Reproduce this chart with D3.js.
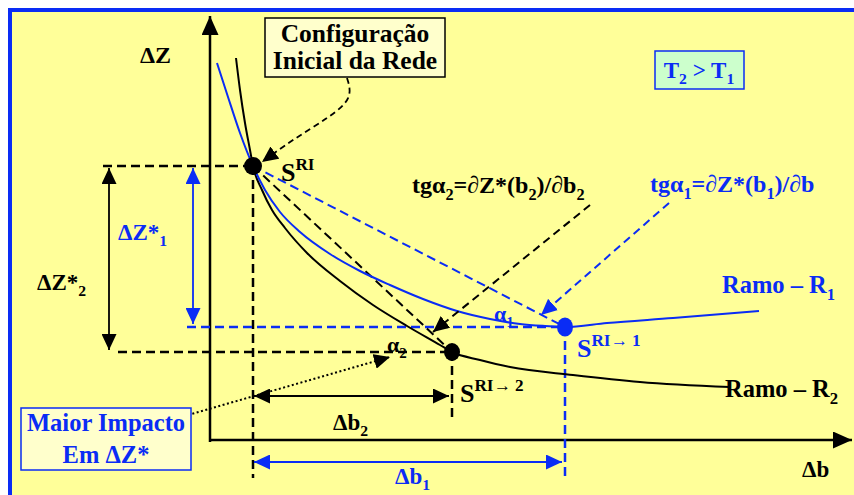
<!DOCTYPE html>
<html><head><meta charset="utf-8">
<script src="https://cdn.jsdelivr.net/npm/d3@7"></script>
<style>html,body{margin:0;padding:0;background:#fff;}svg{display:block;}</style>
</head><body>
<script>
// ---- data (in chart units: Δb horizontally, ΔZ vertically) ----
const ramoR1 = [[0.35,18.85],[0.9,17.15],[1.5,15.35],[2.15,13.7],[2.75,12.5],[3.5,11.4],[4.5,10.4],[6.0,9.3],[7.5,8.45],[9.0,7.75],[10.65,7.05],[12.35,6.45],[14.0,6.05],[15.5,5.8],[16.75,5.7],[17.75,5.65],[19.85,5.85],[23.15,6.1],[27.45,6.45]];
const ramoR2 = [[1.3,19.1],[1.5,17.5],[1.75,15.85],[2.0,14.5],[2.15,13.7],[2.6,12.5],[3.1,11.5],[3.75,10.6],[4.85,9.35],[6.5,7.95],[8.15,6.75],[9.85,5.7],[11.5,4.75],[12.1,4.4],[13.5,4.0],[15.0,3.65],[18.15,3.25],[21.5,2.9],[26.0,2.65]];
const pointNames = ["SRI","S1","S2"];
const pointX = [2.15, 17.75, 12.1];
const pointY = [13.7, 5.65, 4.4];
const seriesNames = ["Ramo – R1","Ramo – R2"];

const W = 854, H = 495;
const BLUE = "#0a2cf5", BLACK = "#000";
const x = d3.scaleLinear().domain([0,32]).range([210,850]);
const y = d3.scaleLinear().domain([0,21.2]).range([440,16]);
const P = {}; pointNames.forEach((n,i)=>P[n]={x:pointX[i],y:pointY[i]});

const svg = d3.select("body").append("svg").attr("width",W).attr("height",H);
const defs = svg.append("defs");
function marker(id,color,len,wid){
  defs.append("marker").attr("id",id).attr("markerUnits","userSpaceOnUse")
    .attr("viewBox",`0 0 ${len} ${wid}`).attr("refX",len).attr("refY",wid/2)
    .attr("markerWidth",len).attr("markerHeight",wid).attr("orient","auto-start-reverse")
    .append("path").attr("d",`M0,0L${len},${wid/2}L0,${wid}Z`).attr("fill",color);
}
marker("ab",BLACK,16,15); marker("abl",BLUE,16,15); marker("axis",BLACK,19,17);

// background & frame
svg.append("rect").attr("x",8).attr("y",8).attr("width",W-8).attr("height",H-8).attr("fill",BLUE);
svg.append("rect").attr("x",12).attr("y",12).attr("width",W-12).attr("height",H-12).attr("fill","#ffff99");

const g = svg.append("g");
function seg(x1,y1,x2,y2,color,w,dash,mEnd,mStart){
  const l=g.append("line").attr("x1",x1).attr("y1",y1).attr("x2",x2).attr("y2",y2)
   .attr("stroke",color).attr("stroke-width",w);
  if(dash) l.attr("stroke-dasharray",dash);
  if(mEnd) l.attr("marker-end",`url(#${mEnd})`);
  if(mStart) l.attr("marker-start",`url(#${mStart})`);
  return l;
}
const DASH="9,5";
// axes
seg(x(0),y(-0.1),x(0),y(21.2),BLACK,2.5,null,"axis");
seg(x(0),y(0),x(32.1),y(0),BLACK,2.5,null,"axis");

// dashed guide lines
seg(103,y(P.SRI.y),x(P.SRI.x),y(P.SRI.y),BLACK,2.5,DASH);
seg(x(P.SRI.x),y(P.SRI.y),x(P.SRI.x),478,BLACK,2.5,DASH);
seg(187,y(P.S1.y),x(P.S1.x),y(P.S1.y),BLUE,2.5,DASH);
seg(118,y(P.S2.y),x(P.S2.x),y(P.S2.y),BLACK,2.5,DASH);
seg(x(P.S2.x),y(P.S2.y),x(P.S2.x),422,BLACK,2.5,DASH);
seg(x(P.S1.x),y(P.S1.y),x(P.S1.x),476,BLUE,2.5,DASH);
// chords
seg(x(P.SRI.x),y(P.SRI.y),x(P.S1.x),y(P.S1.y),BLUE,2,DASH);
seg(x(P.SRI.x),y(P.SRI.y),x(P.S2.x),y(P.S2.y),BLACK,2,DASH);

// curves
const line = d3.line().x(d=>x(d[0])).y(d=>y(d[1])).curve(d3.curveMonotoneX);
g.append("path").attr("d",line(ramoR2)).attr("fill","none").attr("stroke",BLACK).attr("stroke-width",2);
g.append("path").attr("d",line(ramoR1)).attr("fill","none").attr("stroke",BLUE).attr("stroke-width",2);

// double arrows
seg(109,y(P.SRI.y)+2,109,y(P.S2.y)-2,BLACK,1.8,null,"ab","ab");
seg(193,y(P.SRI.y)+2,193,y(P.S1.y)-3,BLUE,1.8,null,"abl","abl");
seg(x(P.SRI.x)+1,396,x(P.S2.x)-3,396,BLACK,1.8,null,"ab","ab");
seg(x(P.SRI.x)+1,462,x(P.S1.x)-3,462,BLUE,1.8,null,"abl","abl");

// connectors
const cl = d3.line().curve(d3.curveBasis);
g.append("path").attr("d",cl([[347,78],[353,98],[330,117],[292,140],[262,162]]))
  .attr("fill","none").attr("stroke",BLACK).attr("stroke-width",1.8).attr("stroke-dasharray","6,4").attr("marker-end","url(#ab)");
seg(590,205,433,332,BLACK,2,"8,5","ab");
seg(669,203,541,315,BLUE,2,"8,5","abl");
seg(188,415,390,357,BLACK,2,"2,2.5","ab");

// points
const pcol = {SRI:BLACK,S1:BLUE,S2:BLACK};
const prx = {SRI:9,S1:8,S2:8}, pry = {SRI:9,S1:9.5,S2:9};
g.selectAll("ellipse.pt").data(pointNames).join("ellipse").attr("class","pt")
  .attr("cx",n=>x(P[n].x)).attr("cy",n=>y(P[n].y)).attr("rx",n=>prx[n]).attr("ry",n=>pry[n]).attr("fill",n=>pcol[n]);

// text helper
function rich(xp,yp,parts,size,color,anchor){
  const t=g.append("text").attr("x",xp).attr("y",yp).attr("font-family","'Liberation Serif','Times New Roman',serif")
    .attr("font-weight","bold").attr("font-size",size).attr("fill",color).attr("text-anchor",anchor||"start");
  let shift=0;
  parts.forEach(p=>{
    const s = typeof p==="string"?{t:p}:p;
    let target=0, fs=size;
    if(s.sub){target=size*0.28; fs=size*0.68;}
    if(s.sup){target=-size*0.42; fs=size*0.66;}
    t.append("tspan").attr("dy",target-shift).attr("font-size",fs).text(s.t);
    shift=target;
  });
  return t;
}
// boxes
g.append("rect").attr("x",265).attr("y",18).attr("width",180).attr("height",59).attr("fill","#ffffcc").attr("stroke",BLACK).attr("stroke-width",1.5);
rich(355,42,["Configuração"],25.5,BLACK,"middle");
rich(355,69,["Inicial da Rede"],25.5,BLACK,"middle");
g.append("rect").attr("x",655).attr("y",51).attr("width",89).attr("height",38).attr("fill","#ccffcc").attr("stroke",BLUE).attr("stroke-width",1.5);
rich(699,78,["T",{t:"2",sub:true}," > T",{t:"1",sub:true}],23,BLUE,"middle");
g.append("rect").attr("x",21).attr("y",408).attr("width",170).attr("height",62).attr("fill","#ffffcc").attr("stroke",BLUE).attr("stroke-width",1.5);
rich(106,431,["Maior Impacto"],24.5,BLUE,"middle");
rich(106,463,["Em ΔZ*"],24.5,BLUE,"middle");

// labels
rich(140,63,["ΔZ"],24,BLACK);
rich(281,181,["S",{t:"RI",sup:true}],26,BLACK);
rich(412,193,["tgα",{t:"2",sub:true},"=∂Z*(b",{t:"2",sub:true},")/∂b",{t:"2",sub:true}],24,BLACK);
rich(650,192,["tgα",{t:"1",sub:true},"=∂Z*(b",{t:"1",sub:true},")/∂b"],24,BLUE);
rich(722,293,[seriesNames[0].slice(0,-1),{t:"1",sub:true}],24.5,BLUE);
rich(725,397,[seriesNames[1].slice(0,-1),{t:"2",sub:true}],24.5,BLACK);
rich(494,321,["α",{t:"1",sub:true}],22,BLUE);
rich(387,352,["α",{t:"2",sub:true}],22,BLACK);
rich(577,357,["S",{t:"RI→ 1",sup:true}],26,BLUE);
rich(460,402,["S",{t:"RI→ 2",sup:true}],26,BLACK);
rich(118,240,["ΔZ*",{t:"1",sub:true}],23,BLUE);
rich(37,290,["ΔZ*",{t:"2",sub:true}],23,BLACK);
rich(333,430,["Δb",{t:"2",sub:true}],23,BLACK);
rich(395,484,["Δb",{t:"1",sub:true}],23,BLUE);
rich(802,477,["Δb"],23,BLACK);
</script>
</body></html>
